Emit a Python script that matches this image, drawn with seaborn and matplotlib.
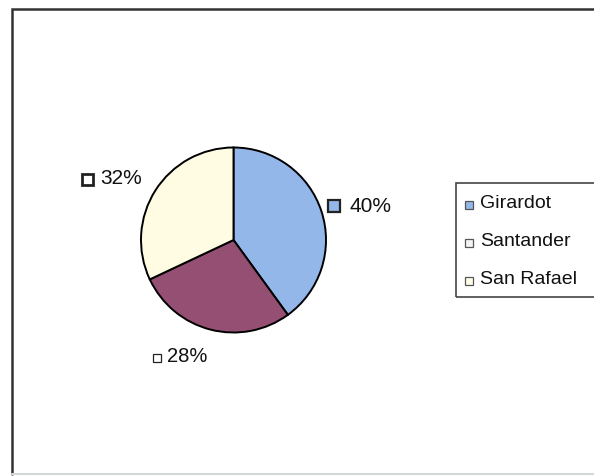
import matplotlib
matplotlib.use("Agg")
import matplotlib.pyplot as plt
import seaborn as sns
from matplotlib.patches import Rectangle

categories = ["Girardot", "Santander", "San Rafael"]
values = [40, 28, 32]
pct_labels = ["40%", "28%", "32%"]

sns.set_theme(style="white")
plt.rcParams['font.family'] = ['Liberation Sans', 'DejaVu Sans']

colors = ["#94B7EA", "#944F72", "#FFFCE3"]
legend_fill = ["#94B7EA", "#F4F4F4", "#FFFDE8"]

W, H = 594, 476
fig = plt.figure(figsize=(W / 100, H / 100), dpi=100)
fig.patch.set_facecolor("white")
ax = fig.add_axes([0, 0, 1, 1])

def Y(y):
    return H - y

# pie
ax.pie(values, colors=colors, startangle=90, counterclock=False,
       center=(233.5, Y(240)), radius=92.5, frame=True,
       wedgeprops=dict(edgecolor="black", linewidth=1.4))
ax.set_xlim(0, W)
ax.set_ylim(0, H)
ax.set_aspect("auto")
ax.set_axis_off()

# outer frame (left and top dark, bottom light)
ax.plot([12, 12, 600], [Y(474), Y(9), Y(9)], color="#333333", lw=1.8, solid_joinstyle="miter")
ax.plot([12, 600], [Y(474), Y(474)], color="#d3d9d9", lw=1.5)

# percentage labels with small square markers
label_specs = [
    ((334, 206), 12, colors[0], 1.6, 350, 206, 15),
    ((157, 358), 8, "white", 0.9, 167, 357, 14.5),
    ((87, 179), 11, "white", 2.0, 100, 179, 15),
]
for (mc, ms, mf, mew, tx, ty, fs), lab in zip(label_specs, pct_labels):
    ax.add_patch(Rectangle((mc[0] - ms / 2, Y(mc[1]) - ms / 2), ms, ms,
                           facecolor=mf, edgecolor="#222222", lw=mew))
    ax.text(tx, Y(ty), lab, fontsize=fs, color="#111111", ha="left", va="center")

# legend box
ax.add_patch(Rectangle((456, Y(297)), 200, 114, fill=False, edgecolor="#444444", lw=1.2))
leg_y = [205, 243, 281]
for cat, fc, ly in zip(categories, legend_fill, leg_y):
    ax.add_patch(Rectangle((465, Y(ly) - 4), 8, 8, facecolor=fc, edgecolor="#555555", lw=0.9))
    ax.text(480, Y(ly - 1), cat, fontsize=14, color="#111111", ha="left", va="center")

fig.savefig("out.png", dpi=100)
